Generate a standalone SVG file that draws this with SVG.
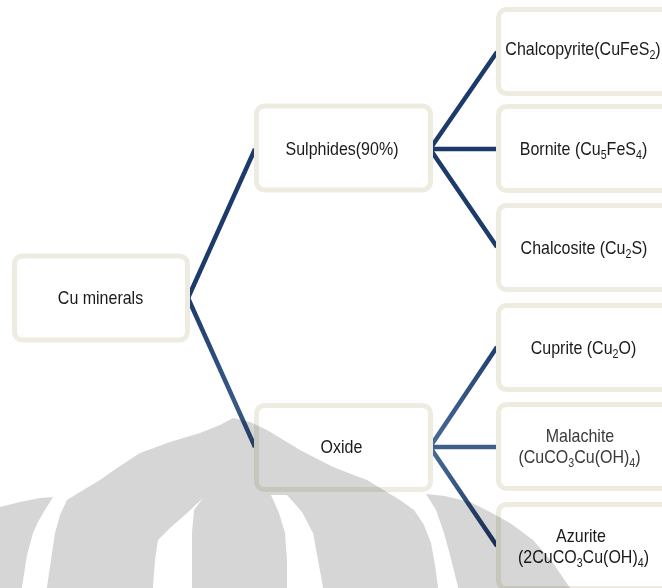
<svg xmlns="http://www.w3.org/2000/svg" width="662" height="588" viewBox="0 0 662 588">
<defs>
<style>
.box{fill:#ffffff;stroke:#eeece1;stroke-width:5}
.t{font-family:"Liberation Sans",Arial,sans-serif;font-size:18px;fill:#1a1a1a;text-anchor:middle}
.g{fill:#3a3a3a}
.ln{fill:none;stroke:#1c3b6a;stroke-width:4.5;stroke-linejoin:miter}
.wm{fill:#d6d6d6;mix-blend-mode:multiply}
</style>
<linearGradient id="gOx" gradientUnits="userSpaceOnUse" x1="188" y1="298" x2="255" y2="447">
<stop offset="0" stop-color="#1c3b6a"/><stop offset="0.7" stop-color="#3a5a86"/><stop offset="1" stop-color="#2a4a78"/>
</linearGradient>
<linearGradient id="gCu" gradientUnits="userSpaceOnUse" x1="430" y1="447" x2="497" y2="347">
<stop offset="0" stop-color="#4a6b98"/><stop offset="1" stop-color="#1f3f6e"/>
</linearGradient>
<linearGradient id="gAz" gradientUnits="userSpaceOnUse" x1="430" y1="447" x2="497" y2="546">
<stop offset="0" stop-color="#4a6b98"/><stop offset="1" stop-color="#1a3763"/>
</linearGradient>
</defs>
<rect width="662" height="588" fill="#ffffff"/>
<g id="connectors">
<path class="ln" d="M255,149 L188,298"/>
<path class="ln" d="M188,298 L255,447" stroke="url(#gOx)" style="stroke:url(#gOx)"/>
<path class="ln" d="M497,52 L430,149 L497,247"/>
<path class="ln" d="M430,149 L497,149"/>
<path class="ln" d="M430,447 L497,347" style="stroke:url(#gCu)"/>
<path class="ln" d="M430,447 L497,447" style="stroke:#3e5f8c"/>
<path class="ln" d="M430,447 L497,546" style="stroke:url(#gAz)"/>
</g>
<g id="n-cu">
<rect class="box" x="14.5" y="256" width="173" height="84" rx="8"/>
<text class="t" transform="translate(100.5,304) scale(0.89,1)">Cu minerals</text>
</g>
<g id="n-sulphides">
<rect class="box" x="256.5" y="106" width="174" height="84" rx="8"/>
<text class="t" transform="translate(342,154.5) scale(0.89,1)">Sulphides(90%)</text>
</g>
<g id="n-oxide">
<rect class="box" x="256.5" y="405.5" width="174" height="84" rx="8"/>
<text class="t" transform="translate(341.5,452.5) scale(0.89,1)">Oxide</text>
</g>
<g id="n-chalcopyrite">
<rect class="box" x="498.5" y="9.5" width="180" height="84" rx="8"/>
<text class="t" transform="translate(583,54.5) scale(0.89,1)">Chalcopyrite(CuFeS<tspan dy="4" font-size="12">2</tspan><tspan dy="-4">)</tspan></text>
</g>
<g id="n-bornite">
<rect class="box" x="498.5" y="106.5" width="180" height="84" rx="8"/>
<text class="t" transform="translate(583.5,154.5) scale(0.89,1)">Bornite (Cu<tspan dy="4" font-size="12">5</tspan><tspan dy="-4">FeS</tspan><tspan dy="4" font-size="12">4</tspan><tspan dy="-4">)</tspan></text>
</g>
<g id="n-chalcosite">
<rect class="box" x="498.5" y="205.5" width="180" height="84" rx="8"/>
<text class="t" transform="translate(584,254) scale(0.89,1)">Chalcosite (Cu<tspan dy="4" font-size="12">2</tspan><tspan dy="-4">S)</tspan></text>
</g>
<g id="n-cuprite">
<rect class="box" x="498.5" y="305.5" width="180" height="84" rx="8"/>
<text class="t" transform="translate(583.5,353.5) scale(0.89,1)">Cuprite (Cu<tspan dy="4" font-size="12">2</tspan><tspan dy="-4">O)</tspan></text>
</g>
<g id="n-malachite">
<rect class="box" x="498.5" y="404.5" width="180" height="84" rx="8"/>
<text class="t g" transform="translate(580,441.5) scale(0.89,1)">Malachite</text>
<text class="t g" transform="translate(579.5,463) scale(0.89,1)">(CuCO<tspan dy="4" font-size="12">3</tspan><tspan dy="-4">Cu(OH)</tspan><tspan dy="4" font-size="12">4</tspan><tspan dy="-4">)</tspan></text>
</g>
<g id="n-azurite">
<rect class="box" x="498.5" y="504.5" width="180" height="84" rx="8"/>
<text class="t" transform="translate(581,541.5) scale(0.89,1)">Azurite</text>
<text class="t" transform="translate(583.5,563) scale(0.89,1)">(2CuCO<tspan dy="4" font-size="12">3</tspan><tspan dy="-4">Cu(OH)</tspan><tspan dy="4" font-size="12">4</tspan><tspan dy="-4">)</tspan></text>
</g>
<g id="watermark">
<path class="wm" fill-rule="evenodd" d="M44,600 L47,587 L51,560 L55,533 L60,515 L67,500 L80,492 L100,480 L120,466 L140,453 L170,442 L200,433 L220,425 L233,418 L250,422 L267,430 L300,450 L333,467 L367,480 L400,500 L414,510 L424,525 L431,543 L435,565 L438,587 L439,600 Z M153,600 L153,587 L155,560 L158,540 L170,528 L186,514 L203,498 L194,510 L192,533 L192,600 Z M271,495 L287,495 L302,512 L313,533 L318,560 L323,587 L324,600 L287,600 L287,560 L285,533 L279,513 Z"/>
<path class="wm" d="M426,494 L445,496 L470,502 L490,512 L510,523 L533,540 L553,563 L570,588 L572,600 L459,600 L458,587 L450,555 L444,533 L436,510 Z"/>
<path class="wm" d="M0,507 L20,502 L40,498 L53,497 L45,510 L38,522 L33,533 L27,555 L22,587 L21,600 L0,600 Z"/>
</g>
</svg>
